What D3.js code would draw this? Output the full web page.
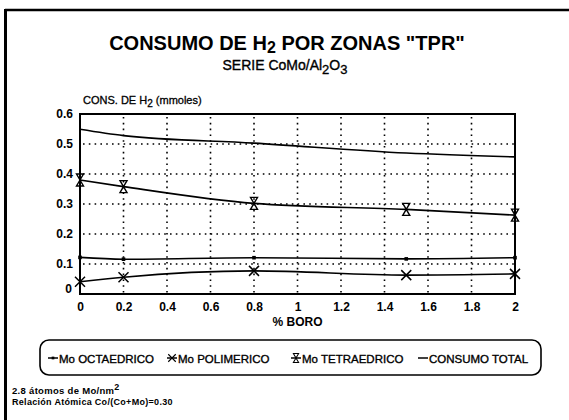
<!DOCTYPE html>
<html>
<head>
<meta charset="utf-8">
<script src="https://cdn.jsdelivr.net/npm/d3@7"></script>
<style>
  html, body { margin: 0; padding: 0; background: #fff; }
  svg { display: block; }
  text { font-family: "Liberation Sans", Arial, Helvetica, sans-serif; fill: #000; }
</style>
</head>
<body>
<svg id="chart" width="569" height="420"></svg>
<script>
// % boro en cada catalizador
const boro = [0, 0.2, 0.8, 1.5, 2];
// consumo de H2 (mmoles) por zona TPR
const moOctaedrico  = [0.122, 0.116, 0.121, 0.117, 0.121];
const moPolimerico  = [0.041, 0.056, 0.077, 0.063, 0.067];
const moTetraedrico = [0.380, 0.358, 0.302, 0.282, 0.263];
const consumoTotal  = [0.549, 0.528, 0.503, 0.470, 0.457];

const xTicks = [0, 0.2, 0.4, 0.6, 0.8, 1, 1.2, 1.4, 1.6, 1.8, 2];
const yTicks = [0, 0.1, 0.2, 0.3, 0.4, 0.5, 0.6];
const seriesNames = ["Mo OCTAEDRICO", "Mo POLIMERICO", "Mo TETRAEDRICO", "CONSUMO TOTAL"];

const svg = d3.select("#chart");
const plot = { left: 80, right: 515, top: 114, bottom: 294 };

const x = d3.scaleLinear().domain([0, 2]).range([plot.left, plot.right]);
const y = d3.scaleLinear().domain([0, 0.6]).range([plot.bottom, plot.top]);

// outer frame (top and left edges)
svg.append("line").attr("x1", 5).attr("x2", 569).attr("y1", 10).attr("y2", 10)
  .attr("stroke", "#000").attr("stroke-width", 2.5);
svg.append("line").attr("x1", 5.5).attr("x2", 5.5).attr("y1", 9).attr("y2", 420)
  .attr("stroke", "#000").attr("stroke-width", 3);

// text with subscripts/superscripts: parts = [[text, "sub"|"sup"|null], ...]
function richText(g, parts, attrs, scriptSize, shift) {
  const t = g.append("text");
  Object.entries(attrs).forEach(([k, v]) => t.attr(k, v));
  parts.forEach(([s, kind]) => {
    const ts = t.append("tspan").text(s);
    if (kind === "sub") ts.attr("baseline-shift", shift || "-30%").attr("font-size", scriptSize);
    if (kind === "sup") ts.attr("baseline-shift", shift || "45%").attr("font-size", scriptSize);
  });
  return t;
}

// titles
richText(svg, [["CONSUMO DE H", null], ["2", "sub"], [" POR ZONAS \"TPR\"", null]],
  { x: 287, y: 50, "text-anchor": "middle", "font-size": 20, "font-weight": "bold" }, 16, "-18%");
richText(svg, [["SERIE CoMo/Al", null], ["2", "sub"], ["O", null], ["3", "sub"]],
  { x: 285, y: 70, "text-anchor": "middle", "font-size": 14, "stroke": "#000", "stroke-width": 0.35 }, 13);
richText(svg, [["CONS. DE H", null], ["2", "sub"], [" (mmoles)", null]],
  { x: 83, y: 104, "font-size": 11, "stroke": "#000", "stroke-width": 0.3 }, 10);

// dotted grid
const grid = svg.append("g").attr("stroke", "#000").attr("stroke-width", 1.6)
  .attr("stroke-dasharray", "1.6,4.2");
grid.selectAll(".gx").data(xTicks.filter(d => d > 0 && d < 2)).join("line")
  .attr("x1", d => x(d)).attr("x2", d => x(d)).attr("y1", plot.top + 3).attr("y2", plot.bottom);
grid.selectAll(".gy").data(yTicks.filter(d => d > 0 && d < 0.6)).join("line")
  .attr("x1", plot.left + 3).attr("x2", plot.right).attr("y1", d => y(d)).attr("y2", d => y(d));

// axes
const xAxis = svg.append("g").attr("transform", `translate(0,${plot.bottom})`)
  .call(d3.axisBottom(x).tickValues(xTicks).tickSize(0).tickPadding(8).tickFormat(d3.format("")));
const yAxis = svg.append("g").attr("transform", `translate(${plot.left},0)`)
  .call(d3.axisLeft(y).tickValues(yTicks).tickSize(0).tickPadding(7).tickFormat(d3.format("")));
[xAxis, yAxis].forEach(a => {
  a.select(".domain").remove();
  a.selectAll("text").attr("font-size", 12).attr("font-weight", "bold")
    .attr("font-family", "\"Liberation Sans\", Arial, sans-serif");
});
// the zero on the value axis sits a little above the corner
yAxis.selectAll(".tick").filter(d => d === 0).select("text").attr("dy", "-0.1em").attr("x", -8);

// plot frame
svg.append("rect").attr("x", plot.left).attr("y", plot.top)
  .attr("width", plot.right - plot.left).attr("height", plot.bottom - plot.top)
  .attr("fill", "none").attr("stroke", "#000").attr("stroke-width", 2);

// x axis title
svg.append("text").attr("x", x(1)).attr("y", 326).attr("text-anchor", "middle")
  .attr("font-size", 12).attr("font-weight", "bold").text("% BORO");

// markers
const markers = {
  oct: g => g.append("rect").attr("x", -1.8).attr("y", -1.8).attr("width", 3.6).attr("height", 3.6).attr("fill", "#000"),
  pol: g => g.append("path").attr("d", "M-5,-5L5,5M-5,5L5,-5").attr("stroke", "#000").attr("stroke-width", 1.5).attr("fill", "none"),
  tet: g => g.append("path").attr("d", "M-3.5,-6H3.5L-3.5,6H3.5Z").attr("stroke", "#000").attr("stroke-width", 1.4).attr("fill", "none"),
  tot: null
};

const series = [
  { key: "oct", values: moOctaedrico },
  { key: "pol", values: moPolimerico },
  { key: "tet", values: moTetraedrico },
  { key: "tot", values: consumoTotal }
];

const line = d3.line().x(d => x(d[0])).y(d => y(d[1])).curve(d3.curveMonotoneX);

series.forEach(s => {
  const pts = boro.map((b, i) => [b, s.values[i]]);
  svg.append("path").datum(pts).attr("d", line)
    .attr("fill", "none").attr("stroke", "#000").attr("stroke-width", 1.6);
  if (markers[s.key]) {
    svg.append("g").selectAll("g").data(pts).join("g")
      .attr("transform", d => `translate(${x(d[0])},${y(d[1])})`)
      .each(function () { markers[s.key](d3.select(this)); });
  }
});

// legend
const legend = svg.append("g");
legend.append("rect").attr("x", 40).attr("y", 340).attr("width", 501).attr("height", 35)
  .attr("rx", 9).attr("ry", 9).attr("fill", "none").attr("stroke", "#000").attr("stroke-width", 1.6);

const legendX = [48, 167, 291, 418];
series.forEach((s, i) => {
  const g = legend.append("g").attr("transform", `translate(${legendX[i]},358)`);
  g.append("line").attr("x1", 0).attr("x2", 10).attr("y1", 0).attr("y2", 0)
    .attr("stroke", "#000").attr("stroke-width", 1.5);
  if (markers[s.key]) {
    const m = g.append("g").attr("transform", "translate(5,0) scale(0.75)");
    markers[s.key](m);
  }
  g.append("text").attr("x", 11).attr("y", 4.5).attr("font-size", 11.5)
    .attr("stroke", "#000").attr("stroke-width", 0.35).text(seriesNames[i]);
});

// notes
richText(svg, [["2.8 átomos de Mo/nm", null], ["2", "sup"]],
  { x: 12, y: 394, "font-size": 9.5, "font-weight": "bold", "letter-spacing": 0.3 }, 9);
svg.append("text").attr("x", 12).attr("y", 405).attr("font-size", 9).attr("font-weight", "bold")
  .attr("letter-spacing", 0.3).text("Relación Atómica Co/(Co+Mo)=0.30");
</script>
</body>
</html>
